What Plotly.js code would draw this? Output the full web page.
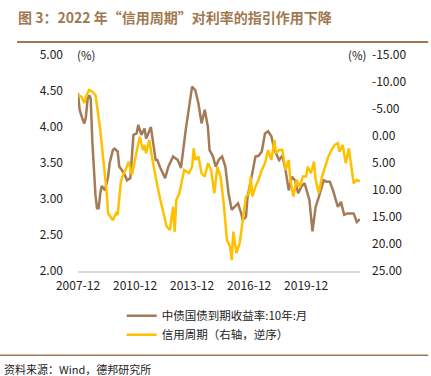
<!DOCTYPE html>
<html><head><meta charset="utf-8">
<script src="https://cdn.plot.ly/plotly-3.0.1.min.js"></script>
<style>html,body{margin:0;padding:0;background:#fff}#c{width:431px;height:376px}</style>
</head><body><div id="c"></div>
<script>
const bondDates = ["2007-12","2008-01","2008-03","2008-04","2008-05","2008-06","2008-07","2008-08","2008-09","2008-10","2008-11","2008-12","2009-01","2009-02","2009-03","2009-05","2009-07","2009-08","2009-10","2009-11","2010-01","2010-02","2010-04","2010-05","2010-07","2010-09","2010-11","2011-01","2011-02","2011-04","2011-06","2011-07","2011-08","2011-10","2012-01","2012-02","2012-04","2012-07","2012-09","2012-12","2013-03","2013-05","2013-08","2013-10","2013-12","2014-02","2014-04","2014-06","2014-08","2014-10","2014-11","2015-01","2015-03","2015-05","2015-07","2015-09","2015-11","2016-01","2016-03","2016-05","2016-07","2016-08","2016-10","2016-11","2017-02","2017-04","2017-06","2017-08","2017-10","2017-12","2018-02","2018-04","2018-07","2018-09","2018-11","2019-01","2019-03","2019-05","2019-07","2019-09","2019-11","2020-02","2020-04","2020-06","2020-08","2020-11","2021-01","2021-03","2021-05","2021-08","2021-10","2021-12","2022-02","2022-04","2022-06","2022-08","2022-10"];
const bondYield = [4.47,4.24,4.10,4.05,4.14,4.38,4.44,4.40,3.80,3.40,3.05,2.87,2.87,3.08,3.18,3.12,3.31,3.50,3.68,3.70,3.66,3.45,3.40,3.36,3.26,3.29,3.89,3.91,4.03,3.89,3.98,3.84,3.89,4.00,3.54,3.54,3.43,3.29,3.45,3.59,3.54,3.43,3.96,4.24,4.56,4.51,4.33,4.05,4.24,4.00,3.68,3.60,3.45,3.55,3.59,3.45,3.08,2.85,2.90,2.94,2.80,2.71,2.75,3.03,3.36,3.59,3.60,3.66,3.91,3.94,3.87,3.68,3.54,3.60,3.40,3.12,3.31,3.26,3.08,3.17,3.22,2.99,2.55,2.89,3.03,3.26,3.24,3.24,3.12,2.89,2.96,2.78,2.80,2.80,2.80,2.68,2.72];
const creditDates = ["2007-12","2008-02","2008-04","2008-05","2008-07","2008-09","2008-11","2009-02","2009-04","2009-06","2009-07","2009-10","2009-12","2010-01","2010-03","2010-04","2010-06","2010-08","2010-10","2010-12","2011-02","2011-03","2011-05","2011-06","2011-07","2011-09","2011-11","2012-01","2012-02","2012-04","2012-06","2012-08","2012-10","2012-12","2013-01","2013-02","2013-04","2013-07","2013-10","2013-12","2014-01","2014-02","2014-04","2014-06","2014-08","2014-10","2014-12","2015-02","2015-04","2015-06","2015-08","2015-10","2015-12","2016-01","2016-02","2016-04","2016-06","2016-08","2016-10","2016-12","2017-01","2017-02","2017-04","2017-06","2017-08","2017-10","2017-12","2018-02","2018-04","2018-05","2018-07","2018-09","2018-11","2019-01","2019-02","2019-04","2019-06","2019-08","2019-10","2019-12","2020-01","2020-03","2020-05","2020-06","2020-08","2020-10","2020-12","2021-02","2021-04","2021-06","2021-08","2021-09","2021-11","2022-01","2022-03","2022-06","2022-08","2022-10"];
const creditCycle = [-7.59,-7.3,-6.06,-7.3,-8.52,-8.2,-7.6,-1.11,4.44,10.0,14.3,15.6,14.3,14.6,8.76,7.5,6.3,4.76,7.2,4.5,2.0,0.13,2.6,1.67,3.2,0.74,4.44,8.1,9.1,11.85,14.3,16.8,17.4,13.1,17.7,11.85,10.6,6.3,6.9,5.7,2.28,4.44,3.8,6.9,7.5,5.06,6.3,10.6,5.7,7.5,12.5,19.3,20.5,23.0,17.7,21.7,19.9,15.6,11.2,10.6,7.5,11.2,9.4,8.1,6.3,5.06,2.6,4.44,0.74,3.2,2.6,2.6,6.3,4.44,8.1,11.2,8.1,9.4,7.5,7.5,5.7,6.9,4.76,8.1,10.6,7.5,5.7,3.8,2.6,1.67,1.35,2.9,1.67,5.06,2.28,8.76,8.1,8.45];
const xTickVals = ["2007-12","2010-12","2013-12","2016-12","2019-12"];
const leftTicks = [2,2.5,3,3.5,4,4.5,5];
const rightTicks = [-15,-10,-5,0,5,10,15,20,25];
const seriesNames = ["中债国债到期收益率:10年:月","信用周期（右轴，逆序）"];
const titleText = "图 3：2022 年“信用周期”对利率的指引作用下降";
const sourceText = "资料来源：Wind，德邦研究所";

const brown = "#A47B59", gold = "#FFC000", titleBrown = "#A0784F";
const F = "Noto Sans CJK SC, Noto Sans, sans-serif";

const traces = [
  {x: bondDates, y: bondYield, name: seriesNames[0], type: "scatter", mode: "lines",
   line: {color: brown, width: 2.5}, yaxis: "y"},
  {x: creditDates, y: creditCycle, name: seriesNames[1], type: "scatter", mode: "lines",
   line: {color: gold, width: 2.5}, yaxis: "y2"}
];
const layout = {
  width: 431, height: 376,
  margin: {l: 78, r: 71, t: 55, b: 105},
  paper_bgcolor: "#fff", plot_bgcolor: "#fff",
  font: {family: F, size: 11.5, color: "#222"},
  title: {text: "<b>" + titleText + "</b>", xref: "container", yref: "container",
    x: 18/431, xanchor: "left", y: 1 - 18/376, yanchor: "middle",
    font: {family: F, size: 14, color: titleBrown}},
  showlegend: true,
  legend: {x: 0.155, y: -0.14, xanchor: "left", yanchor: "top", orientation: "v",
    font: {family: F, size: 11.5, color: "#222"}, tracegroupgap: 4, itemwidth: 30, bgcolor: "rgba(0,0,0,0)"},
  xaxis: {type: "date", range: ["2007-12-01","2022-10-01"], tickvals: xTickVals,
    ticktext: xTickVals, showgrid: false, zeroline: false, showline: true,
    linecolor: "#d9d9d9", linewidth: 1.5, ticks: "", tickfont: {size: 12}, ticklabelstandoff: 3},
  yaxis: {range: [2,5], tickvals: leftTicks, ticktext: leftTicks.map(v => v.toFixed(2)),
    showgrid: false, zeroline: false, showline: false, ticks: "", ticklabelstandoff: 14,
    tickfont: {size: 12}},
  yaxis2: {range: [25,-15], overlaying: "y", side: "right", tickvals: rightTicks,
    ticktext: rightTicks.map(v => v.toFixed(2)), showgrid: false, zeroline: false,
    showline: false, ticks: "", ticklabelstandoff: 11, tickfont: {size: 12}},
  annotations: [
    {text: "(%)", xref: "paper", yref: "paper", x: -0.01, y: 1.0, xanchor: "left", yanchor: "middle",
     showarrow: false, font: {family: F, size: 11.5, color: "#222"}},
    {text: "(%)", xref: "paper", yref: "paper", x: 0.95, y: 1.0, xanchor: "left", yanchor: "middle",
     showarrow: false, font: {family: F, size: 11.5, color: "#222"}},
    {text: sourceText, xref: "paper", yref: "paper", x: -0.27, y: -0.455, xanchor: "left", yanchor: "middle",
     showarrow: false, font: {family: F, size: 11, color: "#222"}}
  ],
  shapes: [
    {type: "line", xref: "paper", yref: "paper", x0: -0.216, x1: 1.242, y0: 1.06, y1: 1.06,
     line: {color: titleBrown, width: 2}},
    {type: "line", xref: "paper", yref: "paper", x0: -0.277, x1: 1.242, y0: -0.39, y1: -0.39,
     line: {color: titleBrown, width: 1.5}}
  ]
};
Plotly.newPlot("c", traces, layout, {displayModeBar: false, staticPlot: true});
</script></body></html>
